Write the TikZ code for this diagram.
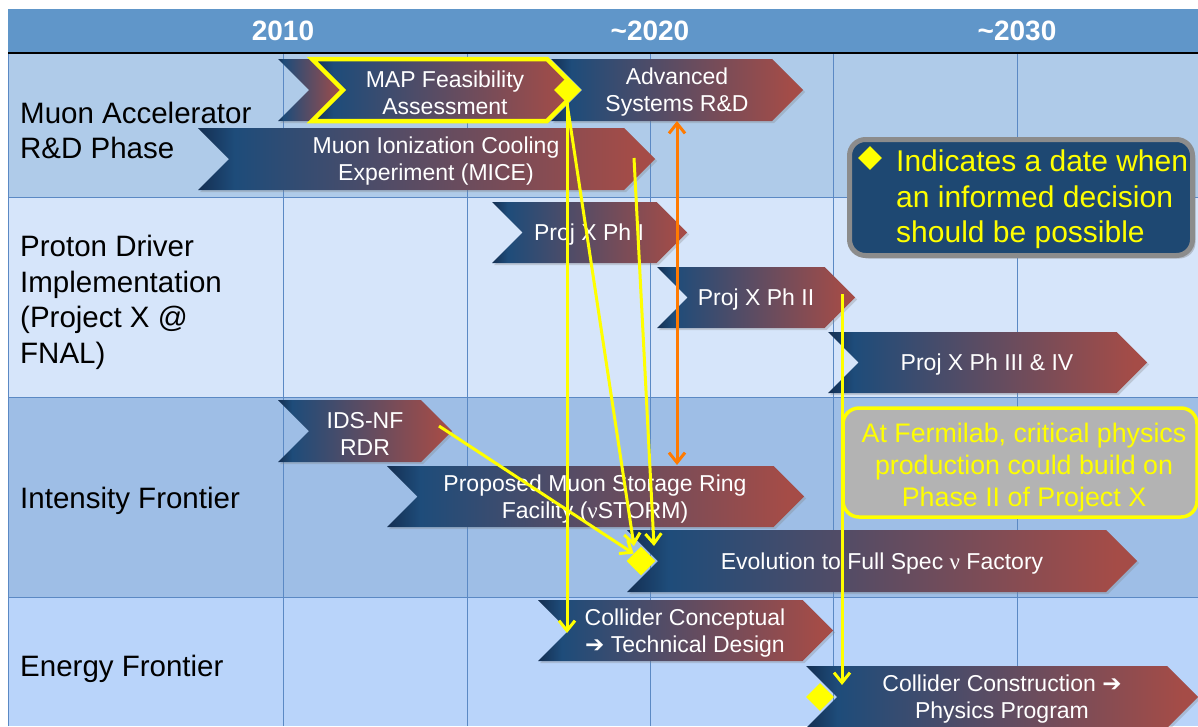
\documentclass[tikz,border=0pt]{standalone}
\usepackage{fontspec}
\setmainfont{Liberation Sans}
\newfontfamily\djv{DejaVu Sans}
\newfontfamily\lsr{Liberation Serif}
\usetikzlibrary{shapes.geometric,arrows.meta,shadows}
\definecolor{hdrc}{HTML}{6096C9}
\definecolor{rowa}{HTML}{AFCBE9}
\definecolor{rowb}{HTML}{D6E5FA}
\definecolor{rowc}{HTML}{9EBEE6}
\definecolor{rowd}{HTML}{B9D4FA}
\definecolor{gridc}{HTML}{5B89C4}
\definecolor{yel}{HTML}{FFFF00}
\definecolor{org}{HTML}{FF7A00}
\definecolor{legf}{HTML}{1E4872}
\definecolor{legb}{HTML}{8C8C8C}
\definecolor{fermf}{HTML}{B3B3B3}
\definecolor{cD}{HTML}{142F52}
\definecolor{cB}{HTML}{1E4C7A}
\definecolor{cR}{HTML}{A54C47}
\pgfdeclarehorizontalshading{chev}{100bp}{color(0bp)=(cD); color(25bp)=(cD); color(29bp)=(cB); color(73bp)=(cR); color(100bp)=(cR)}
\newcommand\chevbox[8][]{%
  \pgfmathsetmacro\cdd{(#6-#5)/2}%
  \pgfmathsetmacro\cym{(#5+#6)/2}%
  \shade[chshape,#1] (#3,#5) -- ({#4-\cdd},#5) -- (#4,\cym) -- ({#4-\cdd},#6) -- (#3,#6) -- ({#3+\cdd},\cym) -- cycle;
  \node[chtext] (#2) at (#7,\cym) {#8};
}
\begin{document}
\begin{tikzpicture}[x=1pt,y=-1pt,
  chshape/.style={shading=chev, drop shadow={opacity=0.3, shadow xshift=2pt, shadow yshift=-2pt}},
  chtext/.style={text=white, align=center, inner sep=0pt, yshift=-2.5pt, font=\fontsize{23}{27}\selectfont},
  lbl/.style={anchor=west, align=left, inner sep=0pt, yshift=-3pt, text=black, font=\fontsize{29.5}{35.5}\selectfont},
  yearlbl/.style={text=white, inner sep=0pt, font=\bfseries\fontsize{28}{30}\selectfont},
  gridln/.style={draw=gridc, line width=0.9pt},
  diam/.style={diamond, fill=yel, inner sep=0pt, minimum width=#1, minimum height=#1},
  yarr/.style={draw=yel, line width=3pt, -{Straight Barb[length=10pt,width=16pt]}},
  oarr/.style={draw=org, line width=3pt, {Straight Barb[length=10pt,width=16pt]}-{Straight Barb[length=10pt,width=16pt]}},
  legbox/.style={draw=legb, line width=5pt, fill=legf, rounded corners=16pt, drop shadow={opacity=0.4, shadow xshift=3pt, shadow yshift=-3pt}},
  fbox/.style={draw=yel, line width=3.5pt, fill=fermf, rounded corners=16pt},
  ftext/.style={text=yel, align=center, inner sep=0pt, font=\fontsize{26.8}{32}\selectfont}
]
\useasboundingbox (0,0) rectangle (1198,726);
\fill[white] (0,0) rectangle (1198,726);
% rows
\fill[hdrc] (8,9) rectangle (1198,53);
\fill[rowa] (8,53) rectangle (1198,197);
\fill[rowb] (8,197) rectangle (1198,397);
\fill[rowc] (8,397) rectangle (1198,597);
\fill[rowd] (8,597) rectangle (1198,726);
\foreach \gx in {283,467,650,833,1017} \draw[gridln] (\gx,53) -- (\gx,726);
\foreach \gy in {197,397,597} \draw[gridln] (8,\gy) -- (1198,\gy);
\draw[gridln] (8,53) -- (8,726);
\draw[black, line width=1.6pt] (8,53) -- (1198,53);
% header
\node[yearlbl] (y2010) at (283,31) {2010};
\node[yearlbl] (y2020) at (650,31) {\textasciitilde 2020};
\node[yearlbl] (y2030) at (1017,31) {\textasciitilde 2030};
% row labels
\node[lbl] (lmuon) at (20,127.5) {Muon Accelerator\\R\&D Phase};
\node[lbl] (lprot) at (20,299.5) {Proton Driver\\Implementation\\(Project X @\\FNAL)};
\node[lbl] (lint) at (20,498) {Intensity Frontier};
\node[lbl] (lene) at (20,666) {Energy Frontier};
% row 1
\shade[chshape] (278,59) -- (314,59) -- (345,90) -- (314,121) -- (278,121) -- (309,90) -- cycle;
\chevbox{adv}{551}{803}{59}{121}{677}{Advanced\\Systems R\&D}
\chevbox[draw=yel, line width=4.5pt]{map}{312}{578}{59}{121}{445}{MAP Feasibility\\Assessment}
\chevbox{mice}{198}{655}{128}{190}{436}{Muon Ionization Cooling\\Experiment (MICE)}
\node[diam=26pt] (dmap) at (567,90) {};
% row 2
\chevbox{pxa}{492}{687}{202}{263}{589}{Proj X Ph I}
\chevbox{pxb}{657}{855}{267}{328}{756}{Proj X Ph II}
\chevbox{pxc}{828}{1147}{332}{393}{987}{Proj X Ph III \& IV}
% row 3
\chevbox{ids}{278}{452}{400}{462}{365}{IDS-NF\\RDR}
\chevbox{stor}{387}{804}{466}{527}{595}{Proposed Muon Storage Ring\\Facility ({\lsr ν}STORM)}
\chevbox{evo}{627}{1137}{530}{592}{882}{Evolution to Full Spec {\lsr ν} Factory}
\node[diam=29pt] (devo) at (641,561) {};
% row 4
\chevbox{ccd}{538}{833}{600}{661}{685}{Collider Conceptual\\{\djv\bfseries ➔} Technical Design}
\node[diam=28pt] (dcc) at (820,697) {};
\chevbox{ccon}{806}{1198}{666}{728}{1002}{Collider Construction {\djv\bfseries ➔}\\Physics Program}
% legend
\node[legbox, anchor=north west, minimum width=343pt, minimum height=116pt] (leg) at (847,137) {};
\node[diam=24pt] (dleg) at (870,158) {};
\node[anchor=west, align=left, inner sep=0pt, yshift=-2.5pt, text=yel, font=\fontsize{30}{35.5}\selectfont] (legt) at (896,197) {Indicates a date when\\an informed decision\\should be possible};
% fermilab
\node[fbox, minimum width=354pt, minimum height=109pt] (fermi) at (1020,462.5) {};
\node[ftext] (fermit) at (1024,467.5) {At Fermilab, critical physics\\production could build on\\Phase II of Project X};
% connectors
\coordinate (e1) at (634,546);
\coordinate (e2) at (654,546);
\coordinate (micep) at (634,158);
\coordinate (idsp) at (439,426);
\coordinate (pxbp) at (842,294);
\coordinate (cconp) at (842,685);
\coordinate (advb) at (677,121);
\coordinate (storp) at (677,465);
\draw[yarr] (dmap.south) -- (dmap.south |- ccd);
\draw[yarr] (dmap.south) -- (e1);
\draw[yarr] (micep) -- (e2);
\draw[yarr] (idsp) -- (devo.north west);
\draw[yarr] (pxbp) -- (cconp);
\draw[oarr] (advb) -- (storp);
\end{tikzpicture}
\end{document}
